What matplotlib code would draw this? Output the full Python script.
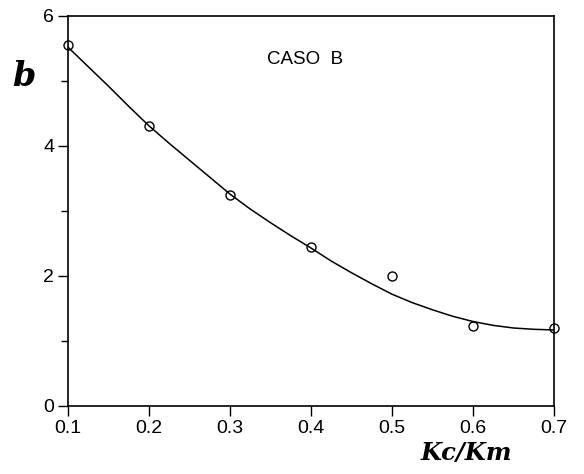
import matplotlib.pyplot as plt
from matplotlib.ticker import MultipleLocator

# measured points (open circles)
kc_km = [0.1, 0.2, 0.3, 0.4, 0.5, 0.6, 0.7]
b_meas = [5.55, 4.31, 3.25, 2.45, 2.0, 1.23, 1.2]

# fitted curve
curve_x = [0.1, 0.125, 0.15, 0.175, 0.2, 0.225, 0.25, 0.275, 0.3, 0.325,
           0.35, 0.375, 0.4, 0.425, 0.45, 0.475, 0.5, 0.525, 0.55, 0.575,
           0.6, 0.625, 0.65, 0.675, 0.7]
curve_b = [5.52, 5.22, 4.92, 4.61, 4.31, 4.04, 3.78, 3.52, 3.26, 3.03,
           2.82, 2.62, 2.43, 2.23, 2.05, 1.88, 1.72, 1.59, 1.48, 1.38,
           1.30, 1.24, 1.20, 1.18, 1.17]

x_ticks = [0.1, 0.2, 0.3, 0.4, 0.5, 0.6, 0.7]
y_ticks = [0, 2, 4, 6]

plt.rcParams["font.family"] = ["Liberation Sans", "DejaVu Sans"]

fig = plt.figure(figsize=(5.84, 4.74), dpi=100)
ax = fig.add_axes([68 / 584, 1 - 406 / 474, (554 - 68) / 584, (406 - 16) / 474])

ax.plot(curve_x, curve_b, color="black", lw=1.1)
ax.plot(kc_km, b_meas, "o", ms=6.5, mfc="none", mec="black", mew=1.0, clip_on=False)

ax.set_xlim(0.1, 0.7)
ax.set_ylim(0, 6)
ax.set_xticks(x_ticks)
ax.set_xticklabels(["0.1", "0.2", "0.3", "0.4", "0.5", "0.6", "0.7"])
ax.set_yticks(y_ticks)
ax.yaxis.set_minor_locator(MultipleLocator(1))
ax.tick_params(direction="out", length=7, width=1.0, labelsize=14)
ax.tick_params(axis="x", pad=3)
ax.tick_params(axis="y", pad=3)
ax.tick_params(which="minor", direction="out", length=5, width=1.0)
for s in ax.spines.values():
    s.set_linewidth(1.2)

fig.text(305 / 584, 1 - 60 / 474, "CASO  B", ha="center", va="center", fontsize=13.5)
fig.text(24 / 584, 1 - 76 / 474, "b", fontsize=24, fontstyle="italic",
         fontweight="bold", family="DejaVu Serif", ha="center", va="center")
fig.text(466 / 584, 1 - 453 / 474, "Kc/Km", fontsize=17.5, fontstyle="italic",
         fontweight="bold", family="DejaVu Serif", ha="center", va="center")

fig.savefig("out.png", dpi=100)
